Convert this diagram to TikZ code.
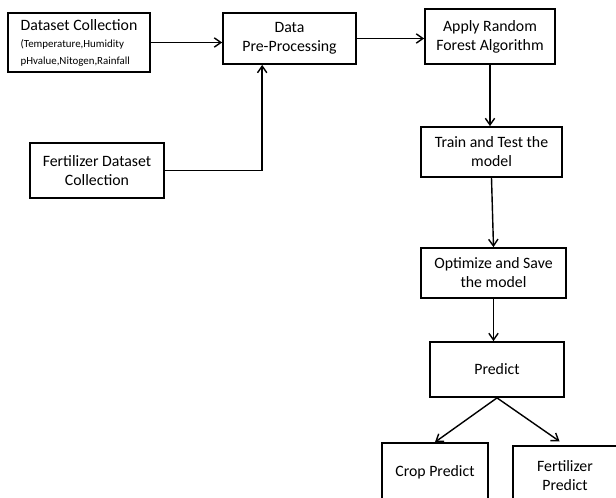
\documentclass[tikz,border=0pt]{standalone}
\usepackage{fontspec}
\setmainfont{Carlito}
\usepackage{tikz}
\usetikzlibrary{shapes,arrows,arrows.meta}
\usetikzlibrary{calc}

\newcommand{\boxfont}{\fontsize{13.5}{16.3}\selectfont}
\newcommand{\smallboxfont}{\fontsize{9.3}{14.5}\selectfont}

\begin{document}
\begin{tikzpicture}[>={Straight Barb[length=0.2cm,width=0.28cm]}, x=0.03cm, y=-0.03cm,
    box/.style={draw, line width=1.5pt, align=center, font=\boxfont},
    link/.style={draw, ->, line width=1.2pt}]
        \useasboundingbox (0,0) rectangle (616,497);
        \clip (0,0) rectangle (616,497);

        \coordinate (dataset) at (79,42.5);
        \coordinate (data) at (289.5,38.5);
        \coordinate (forest) at (490,36.5);
        \coordinate (train) at (491.5,152);
        \coordinate (fert_data) at (97,170.5);
        \coordinate (optimize) at (493.5,273);
        \coordinate (predict) at (497,369.5);
        \coordinate (crop) at (435,472);
        \coordinate (fert_pred) at (565,475.5);

        \node[box, minimum width = 4.26cm, minimum height = 1.77cm, align=left, font=\fontsize{13.5}{14.5}\selectfont] (Dataset) at (dataset) {Dataset Collection\\{\smallboxfont (Temperature,Humidity}\\{\smallboxfont pHvalue,Nitogen,Rainfall}};
        \node[box, minimum width = 3.99cm, minimum height = 1.53cm] (Data) at (data) {Data\\Pre-Processing};
        \node[box, minimum width = 3.9cm, minimum height = 1.65cm] (Forest) at (forest) {Apply Random\\Forest Algorithm};
        \node[box, minimum width = 4.23cm, minimum height = 1.5cm] (Train) at (train) {Train and Test the\\model};
        \node[box, minimum width = 4.02cm, minimum height = 1.65cm] (Fert_data) at (fert_data) {Fertilizer Dataset\\Collection};
        \node[box, minimum width = 4.35cm, minimum height = 1.5cm] (Optimize) at (optimize) {Optimize and Save\\the model};
        \node[box, minimum width = 4.02cm, minimum height = 1.65cm] (Predict) at (predict) {Predict};
        \node[box, minimum width = 3.18cm, minimum height = 1.74cm] (Crop) at (crop) {Crop Predict};
        \node[box, minimum width = 3.12cm, minimum height = 1.77cm] (Fert_pred) at (fert_pred) {Fertilizer\\Predict};

        \path[link] (Dataset.east) -- (Dataset.east -| Data.west);
        \path[link] (Data.east) -- (Data.east -| Forest.west);
        \path[link] (Fert_data.east) -| (Data.224);
        \path[link] (Forest.south) -- (Forest.south |- Train.north);
        \path[link] (Train.south) -- (Optimize.north);
        \path[link] (Optimize.south) -- (Optimize.south |- Predict.north);
        \path[link] (Predict.south) -- (Crop.north);
        \path[link, shorten >=2mm] (Predict.south) -- (Fert_pred.north);
    \end{tikzpicture}
\end{document}
